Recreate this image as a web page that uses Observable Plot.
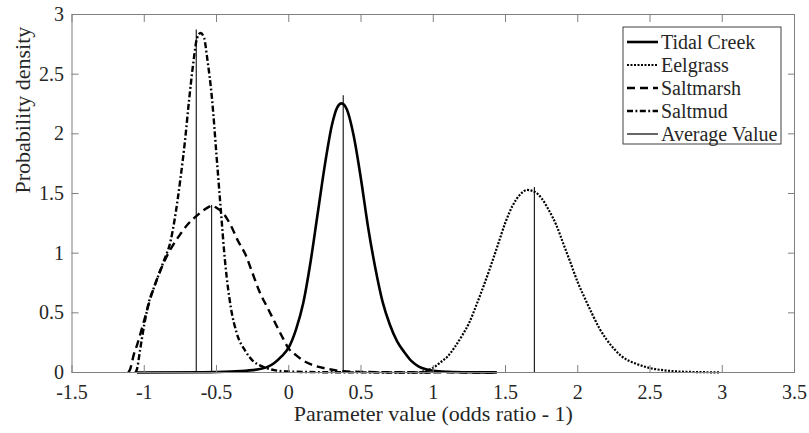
<!DOCTYPE html>
<html>
<head>
<meta charset="utf-8">
<script src="https://cdn.jsdelivr.net/npm/d3@7"></script>
<script src="https://cdn.jsdelivr.net/npm/@observablehq/plot@0.6"></script>
<style>
  body { margin: 0; background: #fff; }
  #chart svg { display: block; }
</style>
</head>
<body>
<div id="chart"></div>
<script>
// ---- Data ----
const xTicks = [-1.5, -1, -0.5, 0, 0.5, 1, 1.5, 2, 2.5, 3, 3.5];
const yTicks = [0, 0.5, 1, 1.5, 2, 2.5, 3];

const seriesNames = ["Tidal Creek", "Eelgrass", "Saltmarsh", "Saltmud"];
const avgLabel = "Average Value";

const tidalX = [-1.05, -0.6, -0.4, -0.25, -0.15, -0.1, -0.05, 0, 0.05, 0.1, 0.15, 0.2, 0.25, 0.3, 0.335, 0.365, 0.4, 0.45, 0.5, 0.55, 0.6, 0.65, 0.7, 0.75, 0.8, 0.85, 0.9, 0.95, 1.0, 1.1, 1.25, 1.44];
const tidalY = [0, 0.002, 0.008, 0.02, 0.045, 0.08, 0.135, 0.21, 0.36, 0.58, 0.92, 1.33, 1.74, 2.08, 2.22, 2.255, 2.21, 1.98, 1.62, 1.21, 0.87, 0.59, 0.40, 0.26, 0.17, 0.095, 0.05, 0.027, 0.015, 0.006, 0.002, 0.001];

const eelX = [0.9, 0.95, 1.0, 1.05, 1.1, 1.15, 1.2, 1.25, 1.3, 1.35, 1.4, 1.45, 1.5, 1.55, 1.6, 1.65, 1.7, 1.75, 1.8, 1.85, 1.9, 1.95, 2.0, 2.05, 2.1, 2.15, 2.2, 2.25, 2.3, 2.35, 2.4, 2.5, 2.6, 2.7, 2.8, 2.9, 2.98];
const eelY = [0, 0.015, 0.04, 0.085, 0.135, 0.215, 0.31, 0.42, 0.57, 0.73, 0.90, 1.08, 1.26, 1.40, 1.49, 1.53, 1.515, 1.46, 1.36, 1.24, 1.08, 0.92, 0.755, 0.62, 0.49, 0.37, 0.275, 0.20, 0.14, 0.10, 0.075, 0.037, 0.018, 0.008, 0.004, 0.002, 0.001];

const marshX = [-1.11, -1.1, -1.07, -1.05, -1.0, -0.95, -0.9, -0.85, -0.8, -0.75, -0.7, -0.65, -0.6, -0.55, -0.53, -0.5, -0.45, -0.4, -0.35, -0.3, -0.25, -0.2, -0.15, -0.1, -0.05, 0, 0.05, 0.1, 0.15, 0.2, 0.27, 0.38, 0.5, 0.8, 1.1, 1.44];
const marshY = [0, 0.02, 0.16, 0.23, 0.44, 0.65, 0.82, 0.96, 1.07, 1.16, 1.24, 1.30, 1.35, 1.39, 1.40, 1.38, 1.33, 1.23, 1.10, 0.99, 0.83, 0.67, 0.55, 0.43, 0.31, 0.20, 0.145, 0.10, 0.07, 0.05, 0.03, 0.01, 0.005, 0.002, 0.001, 0];

const mudX = [-1.06, -1.05, -1.03, -1.0, -0.97, -0.93, -0.9, -0.86, -0.82, -0.79, -0.75, -0.72, -0.69, -0.66, -0.635, -0.61, -0.585, -0.565, -0.53, -0.5, -0.47, -0.44, -0.4, -0.36, -0.3, -0.25, -0.2, -0.15, -0.1, 0, 0.2, 0.5, 1.0];
const mudY = [0, 0.03, 0.18, 0.40, 0.58, 0.72, 0.82, 0.95, 1.09, 1.28, 1.62, 1.92, 2.28, 2.60, 2.80, 2.845, 2.80, 2.64, 2.28, 1.82, 1.36, 0.92, 0.54, 0.33, 0.18, 0.10, 0.06, 0.035, 0.02, 0.008, 0.003, 0.001, 0];

// Average value markers (x position, line top)
const avgX = [0.377, 1.70, -0.534, -0.64];
const avgTop = [2.32, 1.55, 1.40, 2.87];

// ---- Build tables ----
const seriesXs = [tidalX, eelX, marshX, mudX];
const seriesYs = [tidalY, eelY, marshY, mudY];
const styles = [
  {dash: null, width: 2.6},
  {dash: "2,1.5", width: 2.2},
  {dash: "8,5", width: 2.4},
  {dash: "6,2.5,1.8,2.5", width: 2.4}
];
const avgRows = avgX.map((x, i) => ({x, top: avgTop[i], name: seriesNames[i]}));

const FONT = "'Liberation Serif', 'Times New Roman', serif";
const TEXT = "#262626";
const AXIS = "#808080";

const lineMarks = seriesNames.map((name, i) => {
  const rows = seriesXs[i].map((x, j) => ({x, y: seriesYs[i][j], name}));
  return Plot.line(rows, {
    x: "x", y: "y", curve: "monotone-x",
    stroke: "#000", strokeWidth: styles[i].width,
    strokeDasharray: styles[i].dash, strokeLinejoin: "round", strokeLinecap: "butt"
  });
});

// legend drawn as a custom render mark inside the plot frame
function legendMark(index, scales, values, dims) {
  const boxW = 158, boxH = 117;
  const right = dims.width - dims.marginRight - 13;
  const left = right - boxW;
  const top = dims.marginTop + 13;
  const g = d3.create("svg:g");
  g.append("rect")
    .attr("x", left).attr("y", top).attr("width", boxW).attr("height", boxH)
    .attr("fill", "#fff").attr("stroke", "#404040").attr("stroke-width", 1);
  const items = seriesNames.map((n, i) => ({n, dash: styles[i].dash, w: styles[i].width}))
    .concat([{n: avgLabel, dash: null, w: 1.2}]);
  items.forEach((it, i) => {
    const y = top + 15 + i * 23;
    g.append("line")
      .attr("x1", left + 4).attr("x2", left + 35).attr("y1", y).attr("y2", y)
      .attr("stroke", "#000").attr("stroke-width", it.w)
      .attr("stroke-linecap", "butt")
      .attr("stroke-dasharray", it.dash);
    g.append("text")
      .attr("x", left + 38).attr("y", y).attr("dy", "0.35em")
      .attr("text-anchor", "start")
      .attr("font-family", FONT).attr("font-size", 20).attr("fill", TEXT)
      .text(it.n);
  });
  return g.node();
}

const chart = Plot.plot({
  width: 809,
  height: 433,
  marginLeft: 71.5,
  marginRight: 15,
  marginTop: 14,
  marginBottom: 61,
  style: {background: "#fff", fontFamily: FONT},
  x: {domain: [-1.5, 3.5]},
  y: {domain: [0, 3]},
  marks: [
    // average value lines
    Plot.ruleX(avgRows, {x: "x", y1: 0, y2: "top", stroke: "#222", strokeWidth: 1.2}),
    ...lineMarks,
    // box
    Plot.frame({stroke: AXIS, strokeWidth: 1}),
    // inward ticks on all four sides
    Plot.axisX(xTicks, {anchor: "bottom", tickSize: -7, fill: "none", stroke: AXIS, label: null}),
    Plot.axisX(xTicks, {anchor: "top", tickSize: -7, fill: "none", stroke: AXIS, label: null}),
    Plot.axisY(yTicks, {anchor: "left", tickSize: -7, fill: "none", stroke: AXIS, label: null}),
    Plot.axisY(yTicks, {anchor: "right", tickSize: -7, fill: "none", stroke: AXIS, label: null}),
    // tick labels
    Plot.axisX(xTicks, {anchor: "bottom", tickSize: 0, tickPadding: 12, fontSize: 20, fill: TEXT, tickFormat: d => String(d), label: null}),
    Plot.axisY(yTicks, {anchor: "left", tickSize: 0, tickPadding: 8, fontSize: 20, fill: TEXT, tickFormat: d => String(d), label: null}),
    // axis titles
    Plot.text(["Parameter value (odds ratio - 1)"], {frameAnchor: "bottom", dy: 48, fontSize: 22, fill: TEXT}),
    Plot.text(["Probability density"], {frameAnchor: "left", dx: -49.5, rotate: -90, fontSize: 22, fill: TEXT}),
    legendMark
  ]
});

document.getElementById("chart").appendChild(chart);
</script>
</body>
</html>
